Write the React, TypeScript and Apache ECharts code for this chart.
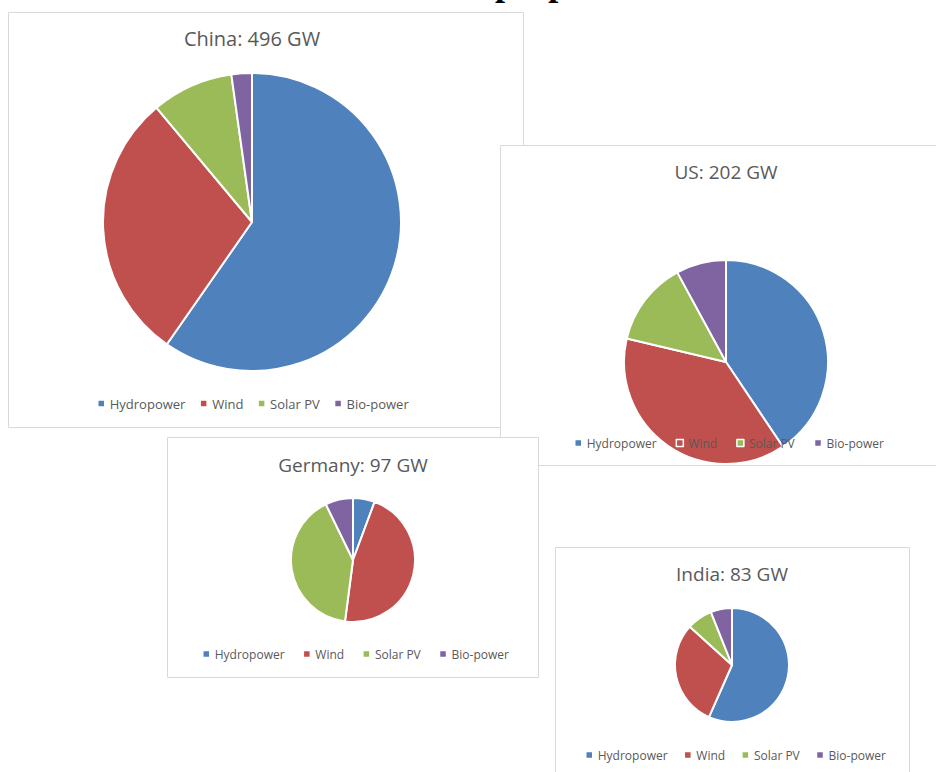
import React, { useEffect, useRef } from "react";
import * as echarts from "echarts";

// ---- data ----
const sources = ["Hydropower", "Wind", "Solar PV", "Bio-power"];
const colors = ["#4F81BD", "#C0504D", "#9BBB59", "#8064A2"];
const countries = ["China", "US", "Germany", "India"];
const totalsGW = [496, 202, 97, 83];
const chinaGW = [296, 145, 44, 11];
const usGW = [82, 77, 27, 16];
const germanyGW = [5.5, 45, 39.5, 7];
const indiaGW = [47, 25, 6, 5];
const pageTitle = "Pie size proportional to total";

const values = [chinaGW, usGW, germanyGW, indiaGW];

// ---- layout (positions only) ----
const layout = [
  { box: [8.5, 12.5, 515, 415], title: [252, 38, 20], center: [252, 222], r: 149, legend: [97, 397, 13, 14] },
  { box: [500.5, 145.5, 470, 320], title: [726, 172, 19], center: [726, 362], r: 102, legend: [574, 437, 12, 19] },
  { box: [167.5, 437.5, 371, 240], title: [353, 465, 19], center: [353, 560], r: 62, legend: [202, 648, 12, 18] },
  { box: [555.5, 547.5, 354, 260], title: [732, 574, 19], center: [732, 665], r: 57, legend: [585, 749, 12, 16] },
];

const FONT = "'Open Sans', 'Noto Sans', sans-serif";
const GREY = "#595959";

export default function App() {
  const ref = useRef<HTMLDivElement>(null);

  useEffect(() => {
    if (!ref.current) return;
    const chart = echarts.init(ref.current, undefined, { renderer: "svg" });

    const graphics: any[] = [
      {
        type: "text",
        x: 373,
        y: -17,
        z: 0,
        silent: true,
        style: {
          text: pageTitle,
          fontFamily: "'Liberation Serif', 'Times New Roman', serif",
          fontWeight: "bold",
          fontSize: 36,
          fill: "#000",
          align: "left",
          verticalAlign: "middle",
        },
      },
    ];
    const series: any[] = [];
    const legends: any[] = [];

    countries.forEach((c, k) => {
      const L = layout[k];
      const zb = 1 + k * 3;
      graphics.push({
        type: "rect",
        z: zb,
        silent: true,
        shape: { x: L.box[0], y: L.box[1], width: L.box[2], height: L.box[3] },
        style: { fill: "#fff", stroke: "#d9d9d9", lineWidth: 1 },
      });
      graphics.push({
        type: "text",
        z: zb,
        silent: true,
        x: L.title[0],
        y: L.title[1],
        style: {
          text: `${c}: ${totalsGW[k]} GW`,
          fontFamily: FONT,
          fontSize: L.title[2],
          fill: GREY,
          align: "center",
          verticalAlign: "middle",
        },
      });
      series.push({
        type: "pie",
        name: c,
        z: zb + 1,
        center: L.center,
        radius: [0, L.r],
        startAngle: 90,
        clockwise: true,
        silent: true,
        label: { show: false },
        labelLine: { show: false },
        itemStyle: { borderColor: "#fff", borderWidth: 2 },
        data: sources.map((s, i) => ({
          name: s,
          value: values[k][i],
          itemStyle: { color: colors[i] },
        })),
      });
      legends.push({
        z: zb + 2,
        left: L.legend[0],
        top: L.legend[1],
        padding: 0,
        orient: "horizontal",
        icon: "rect",
        itemWidth: 7,
        itemHeight: 7,
        itemGap: L.legend[3],
        selectedMode: false,
        data: sources,
        itemStyle: { borderColor: "#fff", borderWidth: 1.5 },
        textStyle: { fontFamily: FONT, fontSize: L.legend[2], color: GREY },
      });
    });

    chart.setOption({
      animation: false,
      backgroundColor: "#fff",
      color: colors,
      graphic: { elements: graphics },
      legend: legends,
      series,
    });

    return () => chart.dispose();
  }, []);

  return (
    <div
      ref={ref}
      style={{ position: "absolute", left: 0, top: 0, width: 936, height: 772 }}
    />
  );
}
